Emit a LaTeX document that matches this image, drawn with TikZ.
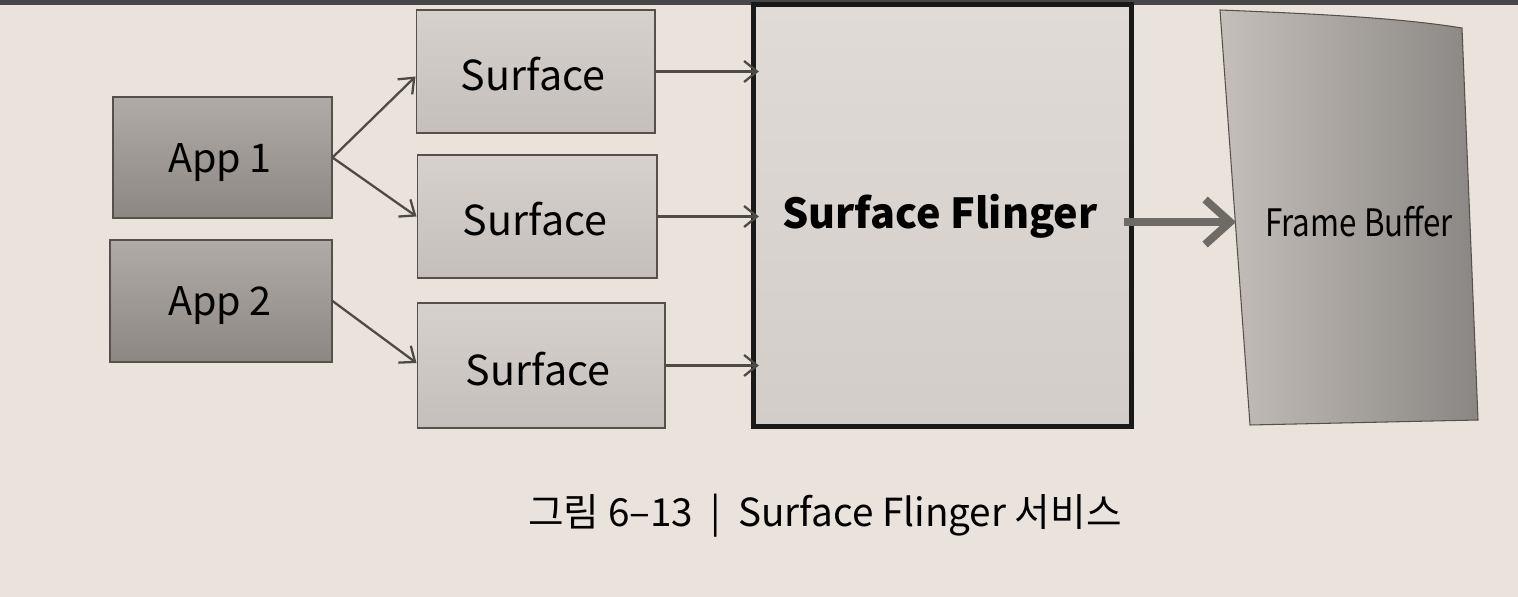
\documentclass[tikz,border=0pt]{standalone}
\usepackage{fontspec}
\setmainfont{Noto Sans CJK KR}
\usetikzlibrary{arrows.meta}
\definecolor{paper}{RGB}{233,227,219}
\definecolor{edge}{RGB}{85,80,76}
\definecolor{arr}{RGB}{78,74,70}
\definecolor{bigarr}{RGB}{110,106,102}
\begin{document}
\begin{tikzpicture}[x=0.02cm,y=-0.02cm,
  appbox/.style={draw=edge,line width=0.6pt,top color={rgb,255:red,176;green,171;blue,166},bottom color={rgb,255:red,140;green,135;blue,130},inner sep=0pt},
  surfbox/.style={draw=edge,line width=0.6pt,top color={rgb,255:red,214;green,209;blue,204},bottom color={rgb,255:red,196;green,191;blue,186},inner sep=0pt},
  apptext/.style={font=\fontsize{22.5}{27}\selectfont},
  surftext/.style={font=\fontsize{23.5}{28}\selectfont},
  link/.style={draw=arr,line width=1.3pt,-{Straight Barb[length=2.6mm,width=4.2mm]}}
]
\useasboundingbox (0,0) rectangle (1518,597);
\fill[paper] (0,0) rectangle (1518,597);
\fill[black!72] (0,0) rectangle (1518,5);
% apps
\node[appbox,minimum width=4.38cm,minimum height=2.42cm] (app1) at (222.5,157.5) {};
\node[apptext] (t1) at (220,163) {App 1};
\node[appbox,minimum width=4.44cm,minimum height=2.44cm] (app2) at (221,301) {};
\node[apptext] (t2) at (220,306) {App 2};
% surfaces
\node[surfbox,minimum width=4.78cm,minimum height=2.46cm] (s1) at (535.5,71.5) {};
\node[surftext] (t3) at (533,74) {Surface};
\node[surfbox,minimum width=4.8cm,minimum height=2.46cm] (s2) at (537,216.5) {};
\node[surftext] (t4) at (535,219) {Surface};
\node[surfbox,minimum width=4.96cm,minimum height=2.5cm] (s3) at (541,365.5) {};
\node[surftext] (t5) at (538,369) {Surface};
% surface flinger
\node[draw=black!90,line width=3pt,top color={rgb,255:red,224;green,219;blue,214},bottom color={rgb,255:red,210;green,205;blue,200},minimum width=7.56cm,minimum height=8.44cm,inner sep=0pt] (sf) at (942.5,215.5) {};
\node[font=\bfseries\fontsize{23.5}{28}\selectfont] (t6) at (940,216) {Surface Flinger};
% frame buffer
\shade[left color={rgb,255:red,196;green,191;blue,186},right color={rgb,255:red,138;green,134;blue,131},draw=edge,line width=0.6pt]
  (1220,10) .. controls (1320,14) and (1400,18) .. (1462,28) -- (1478,420) -- (1250,425) -- cycle;
\coordinate (fbin) at (1236,222);
\node[inner sep=0pt,font=\fontsize{21.5}{25}\selectfont,xscale=0.83] (fb) at (1359,221) {Frame Buffer};
% connectors
\draw[link] (app1.east) -- ([yshift=-0.1cm]s1.west);
\draw[link] (app1.east) -- (s2.west);
\draw[link] (app2.east) -- ([yshift=0.05cm]s3.west);
\draw[link] (s1.east) -- ([xshift=0.16cm]s1.east -| sf.west);
\draw[link] (s2.east) -- ([xshift=0.16cm]s2.east -| sf.west);
\draw[link] (s3.east) -- ([xshift=0.16cm]s3.east -| sf.west);
\draw[draw=bigarr,line width=4.5pt,-{Straight Barb[length=5mm,width=9mm]}] (sf.east |- fbin) ++(-0.2cm,0) -- (fbin);
% caption
\node[font=\fontsize{22}{26}\selectfont] (cap) at (825,516) {그림 6–13~~\textbar~~Surface Flinger 서비스};
\end{tikzpicture}
\end{document}
